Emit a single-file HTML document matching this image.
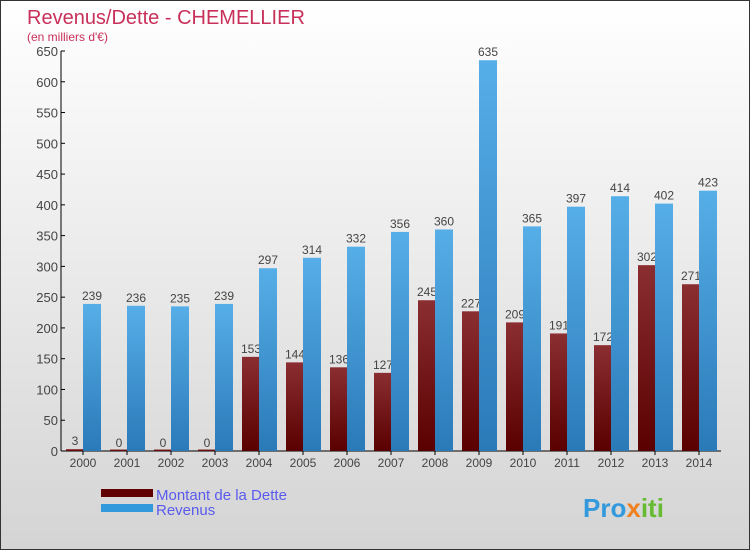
<!DOCTYPE html>
<html><head><meta charset="utf-8"><style>
body{margin:0}
#c{width:750px;height:550px;position:relative;font-family:"Liberation Sans",sans-serif;background:linear-gradient(#ffffff,#d4d4d4);box-sizing:border-box;border:1px solid #333;overflow:hidden}
</style></head><body>
<div id="c">
<svg id="s" width="750" height="550" style="position:absolute;left:0;top:0">
<defs>
<linearGradient id="gr" x1="0" y1="0" x2="0" y2="1"><stop offset="0" stop-color="#8a2e32"/><stop offset="1" stop-color="#5a0000"/></linearGradient>
<linearGradient id="gb" x1="0" y1="0" x2="0" y2="1"><stop offset="0" stop-color="#56aee8"/><stop offset="1" stop-color="#2a7ab8"/></linearGradient>
</defs>
<text x="26" y="23" font-size="20" fill="#c8305a">Revenus/Dette - CHEMELLIER</text>
<text x="26" y="40" font-size="12" fill="#c8305a">(en milliers d'€)</text>
<g id="g"></g>
<rect x="100" y="488" width="52" height="8" fill="#600000"/>
<rect x="100" y="503" width="52" height="8" fill="#3399dd"/>
<text x="155" y="499" font-size="15" fill="#5a5aee">Montant de la Dette</text>
<text x="155" y="514" font-size="15" fill="#5a5aee">Revenus</text>
<text x="582" y="516" font-size="26" font-weight="bold" fill="#3399dd">Pro<tspan fill="#f08020">x</tspan><tspan fill="#66bb33">iti</tspan></text>
</svg>
</div>
<script>
const years=["2000","2001","2002","2003","2004","2005","2006","2007","2008","2009","2010","2011","2012","2013","2014"];
const dette=[3,0,0,0,153,144,136,127,245,227,209,191,172,302,271];
const revenus=[239,236,235,239,297,314,332,356,360,635,365,397,414,402,423];
const yTicks=[0,50,100,150,200,250,300,350,400,450,500,550,600,650];
const NS="http://www.w3.org/2000/svg";
const g=document.getElementById('g');
const y=v=>450-v*400/650;
const x=i=>82+i*44;
function el(t,a){const e=document.createElementNS(NS,t);for(const k in a)e.setAttribute(k,a[k]);g.appendChild(e);return e;}
let ax=el('line',{x1:60,y1:y(650),x2:60,y2:450,stroke:'#000'});


let bx=el('line',{x1:60,y1:450,x2:720,y2:450,stroke:'#000'});


yTicks.forEach(t=>{
 el('line',{x1:60,y1:y(t),x2:64,y2:y(t),stroke:'#000'});
 const l=el('text',{x:57,y:y(t)+5,'font-size':13,fill:'#444','text-anchor':'end'});l.textContent=t;
 
 
});
years.forEach((yr,i)=>{
 el('line',{x1:x(i),y1:450,x2:x(i),y2:454,stroke:'#000'});
 const l=el('text',{x:x(i),y:466,'font-size':12,fill:'#444','text-anchor':'middle'});l.textContent=yr;
 
 
 const h1=Math.max(dette[i]*400/650,1.5);
 const r=el('rect',{x:x(i)-17,y:450-h1,width:17,height:h1,fill:'url(#gr)'});
 
 
 const t1=el('text',{x:x(i)-8,y:y(dette[i])-4,'font-size':12,fill:'#444','text-anchor':'middle'});t1.textContent=dette[i];
 
 
 const b=el('rect',{x:x(i),y:y(revenus[i]),width:18,height:revenus[i]*400/650,fill:'url(#gb)'});
 
 
 const t2=el('text',{x:x(i)+9,y:y(revenus[i])-4,'font-size':12,fill:'#444','text-anchor':'middle'});t2.textContent=revenus[i];
 
 
});
</script>
</body></html>
